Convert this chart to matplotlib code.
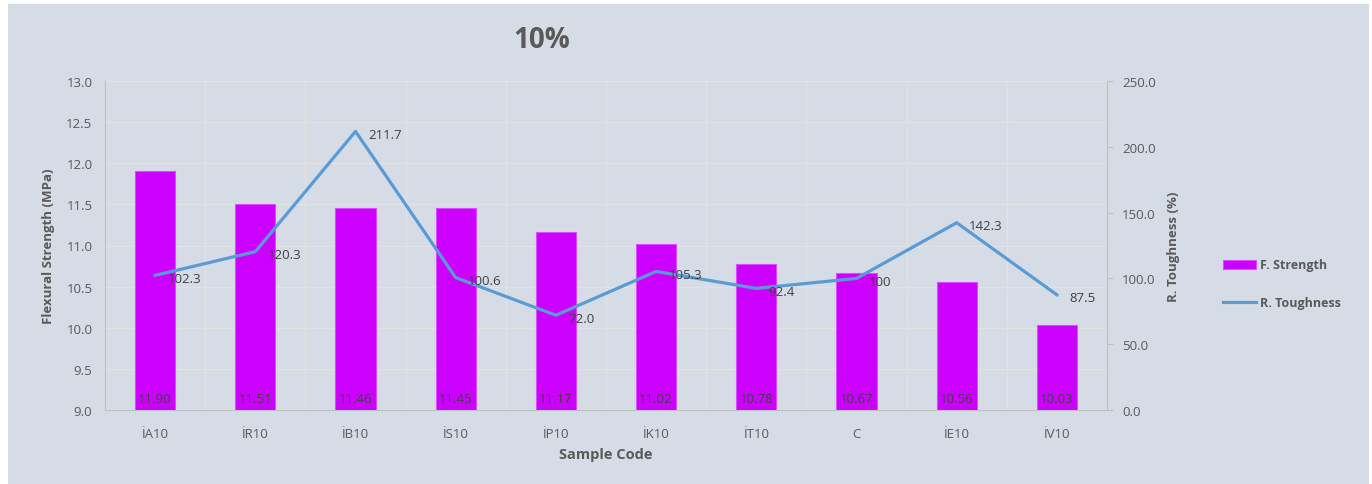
import numpy as np
import matplotlib.pyplot as plt
from matplotlib.patches import Rectangle

categories = ["İA10", "İR10", "İB10", "İS10", "İP10", "İK10", "İT10", "C", "İE10", "İV10"]
strength = [11.90, 11.51, 11.46, 11.45, 11.17, 11.02, 10.78, 10.67, 10.56, 10.03]
toughness = [102.3, 120.3, 211.7, 100.6, 72.0, 105.3, 92.4, 100, 142.3, 87.5]
toughness_labels = ["102.3", "120.3", "211.7", "100.6", "72.0", "105.3", "92.4", "100", "142.3", "87.5"]

bg = "#D6DCE5"
txt = "#595959"
grid_c = "#E2E2E2"
plt.rcParams["font.family"] = ["Open Sans", "DejaVu Sans"]

fig = plt.figure(figsize=(13.72, 4.85), dpi=100)
fig.patch.set_facecolor("white")
fig.patches.append(Rectangle((8 / 1372, 0), 1361 / 1372, 480 / 485,
                             transform=fig.transFigure, facecolor=bg, edgecolor="none", zorder=-10))

ax = fig.add_axes([105 / 1372, 1 - 411 / 485, 1002 / 1372, 329 / 485])
ax.set_facecolor(bg)
x = np.arange(len(categories))
ax.bar(x, strength, width=0.4, color="#CC00FF", edgecolor="#D94CFF", linewidth=0.8,
       zorder=2, label="F. Strength")
ax.set_ylim(9.0, 13.0)
ax.set_xlim(-0.5, len(categories) - 0.5)
ax.set_yticks(np.arange(9.0, 13.01, 0.5))
ax.set_yticklabels([f"{v:.1f}" for v in np.arange(9.0, 13.01, 0.5)])
ax.set_xticks(x)
ax.set_xticklabels(categories)
ax.set_xticks(np.arange(-0.5, len(categories)), minor=True)
ax.grid(True, which="major", axis="y", color=grid_c, linewidth=1, zorder=0)
ax.grid(True, which="minor", axis="x", color=grid_c, linewidth=1, zorder=0)
ax.tick_params(which="both", length=0, colors=txt, labelsize=9.5)
ax.tick_params(axis="x", pad=12)
ax.tick_params(axis="y", pad=9)
for s in ["top", "right"]:
    ax.spines[s].set_visible(False)
for s in ["left", "bottom"]:
    ax.spines[s].set_color("#BFBFBF")
ax.set_ylabel("Flexural Strength (MPa)", fontsize=9.5, fontweight="bold", color=txt, labelpad=8)
ax.set_xlabel("Sample Code", fontsize=10.5, fontweight="bold", color=txt, labelpad=5)

for xi, v in zip(x, strength):
    ax.text(xi, 9.0 + 0.06, f"{v:.2f}", ha="center", va="bottom", fontsize=9.5, color="#404040", zorder=4)

ax2 = ax.twinx()
ax2.plot(x, toughness, color="#5B9BD5", linewidth=2.3, zorder=3, label="R. Toughness")
ax2.set_ylim(0, 250)
ax2.set_yticks(np.arange(0, 251, 50))
ax2.set_yticklabels([f"{v:.1f}" for v in np.arange(0, 251, 50)])
ax2.tick_params(axis="y", colors=txt, labelsize=9.5, length=4, color="#BFBFBF", pad=7)
for s in ["top", "left", "bottom"]:
    ax2.spines[s].set_visible(False)
ax2.spines["right"].set_color("#BFBFBF")
ax2.set_ylabel("R. Toughness (%)", fontsize=9.5, fontweight="bold", color=txt, labelpad=8)
for xi, v, lab in zip(x, toughness, toughness_labels):
    ax2.annotate(lab, (xi, v), xytext=(9, -2), textcoords="offset points",
                 ha="left", va="center", fontsize=9.5, color="#404040", zorder=5)

fig.text(542 / 1372, 1 - 40 / 485, "10%", ha="center", va="center", fontsize=20,
         fontweight="bold", color=txt)

h1, l1 = ax.get_legend_handles_labels()
h2, l2 = ax2.get_legend_handles_labels()
leg = fig.legend(h1 + h2, l1 + l2, loc="center left", bbox_to_anchor=(1212 / 1372, 1 - 285 / 485),
                 frameon=False, labelspacing=2.0, handlelength=2.6, handletextpad=0.3,
                 prop={"weight": "bold", "size": 9})
for t in leg.get_texts():
    t.set_color(txt)

fig.savefig("out.png", dpi=100, facecolor=fig.get_facecolor())
